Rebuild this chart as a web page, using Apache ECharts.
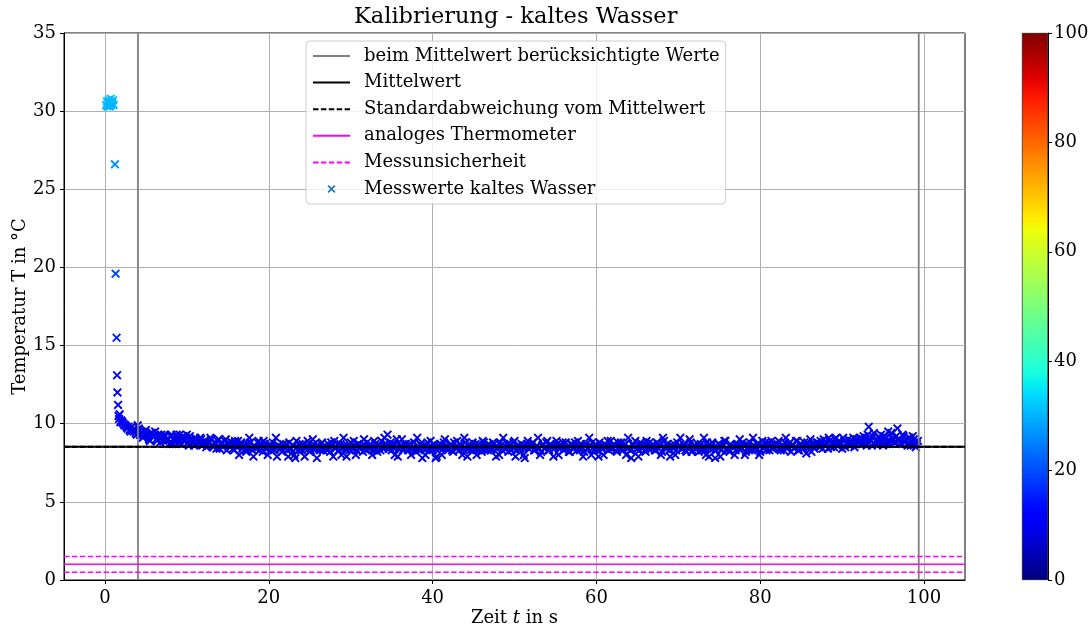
<!DOCTYPE html>
<html>
<head>
<meta charset="utf-8">
<title>Kalibrierung - kaltes Wasser</title>
<script src="https://cdn.jsdelivr.net/npm/echarts@6/dist/echarts.min.js"></script>
<style>
  html, body { margin: 0; padding: 0; background: #fff; }
  #chart { width: 1092px; height: 628px; }
</style>
</head>
<body>
<div id="chart"></div>
<script>
// Anfangsphase: Sensor kommt aus warmer Umgebung ins kalte Wasser
const zeitAnfang = [0.15,0.25,0.3,0.4,0.45,0.5,0.55,0.6,0.65,0.7,0.75,0.8,0.9,1.0,1.05,
  1.22,1.3,1.42,1.48,1.52,1.6,1.66,1.72,1.8,1.88];
const tempAnfang = [30.4,30.6,30.3,30.5,30.7,30.4,30.6,30.3,30.5,30.8,30.4,30.6,30.5,30.7,30.4,
  26.6,19.6,15.5,13.1,12.0,11.2,10.5,10.3,10.6,10.1];

// Messwerte ab t = 2 s (volle Viertelsekunden)
const zeit = [
  2,2.25,2.5,2.75,3,3.25,3.5,3.75,4,4.25,4.5,4.75,5,5.25,5.5,5.75,6,6.25,6.5,6.75,
  7,7.25,7.5,7.75,8,8.25,8.5,8.75,9,9.25,9.5,9.75,10,10.25,10.5,10.75,11,11.25,11.5,11.75,
  12,12.25,12.5,12.75,13,13.25,13.5,13.75,14,14.25,14.5,14.75,15,15.25,15.5,15.75,16,16.25,16.5,16.75,
  17,17.25,17.5,17.75,18,18.25,18.5,18.75,19,19.25,19.5,19.75,20,20.25,20.5,20.75,21,21.25,21.5,21.75,
  22,22.25,22.5,22.75,23,23.25,23.5,23.75,24,24.25,24.5,24.75,25,25.25,25.5,25.75,26,26.25,26.5,26.75,
  27,27.25,27.5,27.75,28,28.25,28.5,28.75,29,29.25,29.5,29.75,30,30.25,30.5,30.75,31,31.25,31.5,31.75,
  32,32.25,32.5,32.75,33,33.25,33.5,33.75,34,34.25,34.5,34.75,35,35.25,35.5,35.75,36,36.25,36.5,36.75,
  37,37.25,37.5,37.75,38,38.25,38.5,38.75,39,39.25,39.5,39.75,40,40.25,40.5,40.75,41,41.25,41.5,41.75,
  42,42.25,42.5,42.75,43,43.25,43.5,43.75,44,44.25,44.5,44.75,45,45.25,45.5,45.75,46,46.25,46.5,46.75,
  47,47.25,47.5,47.75,48,48.25,48.5,48.75,49,49.25,49.5,49.75,50,50.25,50.5,50.75,51,51.25,51.5,51.75,
  52,52.25,52.5,52.75,53,53.25,53.5,53.75,54,54.25,54.5,54.75,55,55.25,55.5,55.75,56,56.25,56.5,56.75,
  57,57.25,57.5,57.75,58,58.25,58.5,58.75,59,59.25,59.5,59.75,60,60.25,60.5,60.75,61,61.25,61.5,61.75,
  62,62.25,62.5,62.75,63,63.25,63.5,63.75,64,64.25,64.5,64.75,65,65.25,65.5,65.75,66,66.25,66.5,66.75,
  67,67.25,67.5,67.75,68,68.25,68.5,68.75,69,69.25,69.5,69.75,70,70.25,70.5,70.75,71,71.25,71.5,71.75,
  72,72.25,72.5,72.75,73,73.25,73.5,73.75,74,74.25,74.5,74.75,75,75.25,75.5,75.75,76,76.25,76.5,76.75,
  77,77.25,77.5,77.75,78,78.25,78.5,78.75,79,79.25,79.5,79.75,80,80.25,80.5,80.75,81,81.25,81.5,81.75,
  82,82.25,82.5,82.75,83,83.25,83.5,83.75,84,84.25,84.5,84.75,85,85.25,85.5,85.75,86,86.25,86.5,86.75,
  87,87.25,87.5,87.75,88,88.25,88.5,88.75,89,89.25,89.5,89.75,90,90.25,90.5,90.75,91,91.25,91.5,91.75,
  92,92.25,92.5,92.75,93,93.25,93.5,93.75,94,94.25,94.5,94.75,95,95.25,95.5,95.75,96,96.25,96.5,96.75,
  97,97.25,97.5,97.75,98,98.25,98.5,98.75,99,99.25
];
const temperatur = [
  10.2,10.0,9.9,9.7,9.6,9.8,9.5,9.4,9.9,9.3,9.5,9.2,9.6,9.3,8.9,9.4,9.2,9.0,9.3,8.8,
  9.1,9.3,8.9,9.0,9.2,8.7,9.1,9.3,8.8,9.0,9.2,8.9,9.3,8.6,9.0,8.8,9.1,8.7,8.9,9.0,
  8.7,8.9,8.6,8.8,9.0,8.5,8.7,8.9,8.4,8.8,8.6,9.0,8.7,8.5,8.8,8.3,8.7,8.9,8.6,8.4,
  8.6,8.2,8.5,8.8,8.3,8.6,8.4,8.9,8.5,8.2,8.7,8.4,8.6,8.3,8.8,8.5,7.9,8.6,8.4,8.7,
  8.5,8.3,8.8,8.4,8.6,7.8,8.5,8.7,8.3,8.6,8.4,8.9,8.2,8.5,8.7,8.4,8.6,8.3,8.8,8.5,
  8.4,8.7,8.2,8.6,8.9,8.5,8.3,8.7,8.4,8.6,7.9,8.5,8.8,8.4,8.6,8.3,8.7,8.5,8.2,8.6,
  8.8,8.4,8.5,8.3,8.7,8.2,8.6,8.9,8.4,8.5,9.3,8.6,8.3,8.7,8.5,7.9,8.6,9.0,8.4,8.7,
  8.3,8.6,8.4,8.8,8.2,8.5,8.7,7.8,8.6,8.4,8.5,8.9,8.3,8.6,7.9,8.5,8.7,8.4,9.0,8.5,
  8.4,8.7,8.2,8.5,8.9,8.3,8.6,8.4,8.8,7.9,8.5,8.6,8.3,8.7,8.4,8.5,8.2,8.8,8.5,8.3,
  8.6,8.4,8.7,7.9,8.5,8.8,8.3,8.6,8.4,8.2,8.7,8.5,8.9,8.3,8.6,8.4,8.5,7.8,8.7,8.4,
  8.5,8.8,8.3,8.6,8.4,8.2,8.7,8.5,8.9,8.3,8.6,7.9,8.5,8.7,8.4,8.6,8.3,8.8,8.5,8.2,
  8.7,8.4,8.6,8.9,8.3,8.5,8.2,8.7,8.4,8.6,8.8,8.3,8.5,7.9,8.6,8.4,8.7,8.5,8.3,8.9,
  8.4,8.6,8.2,8.5,8.8,8.3,8.7,8.4,8.5,7.8,8.6,8.9,8.4,8.3,8.7,8.5,8.2,8.6,8.8,8.4,
  8.5,8.3,8.7,8.6,8.2,8.9,8.4,8.5,7.9,8.6,8.7,8.3,8.5,9.1,8.4,8.6,8.2,8.5,8.8,8.3,
  8.6,8.4,8.2,8.7,8.5,8.3,8.8,7.9,8.6,8.4,7.8,8.5,8.7,8.3,8.6,8.9,8.4,8.2,8.6,8.5,
  8.3,8.7,9.0,8.4,8.6,8.2,8.5,8.8,8.3,8.6,8.4,8.7,8.2,8.9,8.5,8.3,8.8,8.6,8.4,8.7,
  8.5,8.9,8.3,8.6,8.8,8.4,8.7,8.2,8.6,8.5,8.9,8.3,8.7,8.4,8.6,8.8,8.5,8.2,8.7,8.6,
  8.8,8.5,8.7,9.0,8.6,8.4,8.9,8.7,8.5,9.1,8.6,8.8,8.4,8.9,8.7,9.0,8.6,8.8,8.5,9.0,
  8.8,9.1,8.7,9.0,8.6,9.8,8.9,9.2,8.7,9.0,8.8,9.3,8.6,9.1,8.9,8.7,9.4,9.0,8.8,9.7,
  9.0,8.7,9.2,8.9,8.6,9.1,8.8,9.0,8.5,8.9
];

// Messwerte zwischen den Viertelsekunden
const zeitZwischen = [
  2.125,2.375,2.625,2.875,3.125,3.375,3.625,3.875,4.125,4.375,4.625,4.875,5.125,5.375,5.625,5.875,6.125,6.375,6.625,6.875,
  7.125,7.375,7.625,7.875,8.125,8.375,8.625,8.875,9.125,9.375,9.625,9.875,10.125,10.375,10.625,10.875,11.125,11.375,11.625,11.875,
  12.125,12.375,12.625,12.875,13.125,13.375,13.625,13.875,14.125,14.375,14.625,14.875,15.125,15.375,15.625,15.875,16.125,16.375,16.625,16.875,
  17.125,17.375,17.625,17.875,18.125,18.375,18.625,18.875,19.125,19.375,19.625,19.875,20.125,20.375,20.625,20.875,21.125,21.375,21.625,21.875,
  22.125,22.375,22.625,22.875,23.125,23.375,23.625,23.875,24.125,24.375,24.625,24.875,25.125,25.375,25.625,25.875,26.125,26.375,26.625,26.875,
  27.125,27.375,27.625,27.875,28.125,28.375,28.625,28.875,29.125,29.375,29.625,29.875,30.125,30.375,30.625,30.875,31.125,31.375,31.625,31.875,
  32.125,32.375,32.625,32.875,33.125,33.375,33.625,33.875,34.125,34.375,34.625,34.875,35.125,35.375,35.625,35.875,36.125,36.375,36.625,36.875,
  37.125,37.375,37.625,37.875,38.125,38.375,38.625,38.875,39.125,39.375,39.625,39.875,40.125,40.375,40.625,40.875,41.125,41.375,41.625,41.875,
  42.125,42.375,42.625,42.875,43.125,43.375,43.625,43.875,44.125,44.375,44.625,44.875,45.125,45.375,45.625,45.875,46.125,46.375,46.625,46.875,
  47.125,47.375,47.625,47.875,48.125,48.375,48.625,48.875,49.125,49.375,49.625,49.875,50.125,50.375,50.625,50.875,51.125,51.375,51.625,51.875,
  52.125,52.375,52.625,52.875,53.125,53.375,53.625,53.875,54.125,54.375,54.625,54.875,55.125,55.375,55.625,55.875,56.125,56.375,56.625,56.875,
  57.125,57.375,57.625,57.875,58.125,58.375,58.625,58.875,59.125,59.375,59.625,59.875,60.125,60.375,60.625,60.875,61.125,61.375,61.625,61.875,
  62.125,62.375,62.625,62.875,63.125,63.375,63.625,63.875,64.125,64.375,64.625,64.875,65.125,65.375,65.625,65.875,66.125,66.375,66.625,66.875,
  67.125,67.375,67.625,67.875,68.125,68.375,68.625,68.875,69.125,69.375,69.625,69.875,70.125,70.375,70.625,70.875,71.125,71.375,71.625,71.875,
  72.125,72.375,72.625,72.875,73.125,73.375,73.625,73.875,74.125,74.375,74.625,74.875,75.125,75.375,75.625,75.875,76.125,76.375,76.625,76.875,
  77.125,77.375,77.625,77.875,78.125,78.375,78.625,78.875,79.125,79.375,79.625,79.875,80.125,80.375,80.625,80.875,81.125,81.375,81.625,81.875,
  82.125,82.375,82.625,82.875,83.125,83.375,83.625,83.875,84.125,84.375,84.625,84.875,85.125,85.375,85.625,85.875,86.125,86.375,86.625,86.875,
  87.125,87.375,87.625,87.875,88.125,88.375,88.625,88.875,89.125,89.375,89.625,89.875,90.125,90.375,90.625,90.875,91.125,91.375,91.625,91.875,
  92.125,92.375,92.625,92.875,93.125,93.375,93.625,93.875,94.125,94.375,94.625,94.875,95.125,95.375,95.625,95.875,96.125,96.375,96.625,96.875,
  97.125,97.375,97.625,97.875,98.125,98.375,98.625,98.875,99.125
];
const tempZwischen = [
  10.1,9.9,9.8,9.8,9.5,9.6,9.6,9.3,9.7,9.4,9.1,9.5,9.3,9.0,9.4,9.2,9.5,8.9,9.2,9.3,
  8.9,9.2,9.0,8.7,9.3,9.0,8.8,9.1,9.3,8.7,8.9,9.1,8.8,9.2,8.9,8.6,9.0,8.8,9.1,8.6,
  8.9,8.5,8.8,9.1,8.6,8.8,8.4,9.0,8.7,8.5,8.9,8.3,8.8,8.6,8.4,8.9,8.5,8.0,8.8,8.6,
  8.3,8.7,9.1,8.4,7.9,8.5,8.8,8.3,8.6,8.9,8.4,8.0,8.7,8.5,8.3,9.1,8.6,8.4,8.2,8.5,
  8.7,7.9,8.4,8.6,8.0,8.9,8.3,8.5,8.7,7.9,8.6,8.4,8.3,9.0,8.5,7.8,8.4,8.7,8.3,8.6,
  8.3,8.5,8.8,7.9,8.4,8.7,8.6,8.0,9.1,8.4,8.6,8.3,8.5,8.9,8.0,8.7,8.4,8.6,9.0,8.3,
  8.5,8.7,8.0,8.9,8.4,8.6,8.3,8.5,9.1,8.7,8.4,8.8,8.5,8.0,9.0,8.4,8.6,8.3,8.7,8.5,
  8.7,8.0,8.5,8.4,9.1,8.3,8.6,8.4,8.0,8.8,8.3,8.5,8.7,7.8,8.6,8.4,8.0,8.8,8.5,8.3,
  8.6,8.3,8.8,8.4,8.5,8.7,8.0,9.1,8.4,8.6,8.3,8.8,8.5,8.0,8.7,8.4,8.9,8.3,8.6,8.7,
  8.3,8.8,8.5,8.4,8.0,8.6,9.1,8.4,8.7,8.5,8.3,8.8,7.9,8.6,8.4,8.7,8.0,8.5,8.9,8.6,
  8.7,8.3,8.5,9.1,8.0,8.6,8.4,8.8,8.3,8.7,8.5,8.4,8.9,8.0,8.6,8.8,8.4,8.5,8.2,8.7,
  8.4,8.8,8.3,8.5,8.7,7.9,8.6,8.4,9.1,8.0,8.5,8.7,8.3,8.8,8.4,8.0,8.6,8.9,8.5,8.4,
  8.7,8.3,8.8,8.5,8.4,8.6,8.0,9.1,8.3,8.7,8.5,8.4,7.9,8.8,8.6,8.3,8.9,8.4,8.5,8.7,
  8.3,8.8,8.4,8.0,9.1,8.5,8.7,8.3,8.6,8.4,8.0,8.8,8.6,8.4,8.7,8.3,8.5,9.0,8.2,8.6,
  8.4,8.7,8.5,8.3,9.1,8.0,8.6,8.4,8.8,8.5,8.3,8.7,7.9,8.6,8.9,8.4,8.3,8.7,8.5,8.0,
  8.6,8.4,8.5,8.8,8.0,8.7,8.3,8.5,9.1,8.4,8.7,8.0,8.6,8.5,8.8,8.4,8.3,8.9,8.5,8.6,
  8.7,8.4,8.6,8.3,9.1,8.5,8.8,8.6,8.4,8.9,8.3,8.7,8.5,8.8,8.1,8.6,9.0,8.7,8.4,8.8,
  8.6,8.9,8.4,8.7,8.8,9.1,8.5,8.7,9.0,8.6,8.9,8.7,9.1,8.5,8.8,8.6,8.9,9.1,8.7,8.8,
  9.0,8.7,9.2,8.8,9.3,9.0,8.6,9.4,8.9,8.7,9.1,8.8,9.2,8.7,9.5,8.9,9.1,8.8,9.2,8.9,
  8.8,9.3,8.9,8.7,9.1,8.6,9.2,8.8,8.7
];

// Auswertungsbereich, Mittelwert und Thermometer
const bereichGrenzen = [4.03, 99.35];
const mittelwert = 8.52;
const standardabweichung = 0.02;
const thermometer = 1.0;
const messunsicherheit = 0.5;

// Achsen
const zeitMin = -5, zeitMax = 105;
const zeitTicks = [0, 20, 40, 60, 80, 100];
const tempMin = 0, tempMax = 35, tempSchritt = 5;
const farbMin = 0, farbMax = 100, farbSchritt = 20;

const FONT = 'DejaVu Serif';

// matplotlib "jet" Farbskala
function jet(v) {
  v = Math.max(0, Math.min(1, v));
  const seg = pts => {
    for (let i = 1; i < pts.length; i++) {
      if (v <= pts[i][0]) {
        const [x0, y0] = pts[i - 1], [x1, y1] = pts[i];
        return y0 + (y1 - y0) * (v - x0) / (x1 - x0);
      }
    }
    return pts[pts.length - 1][1];
  };
  const r = seg([[0,0],[0.35,0],[0.66,1],[0.89,1],[1,0.5]]);
  const g = seg([[0,0],[0.125,0],[0.375,1],[0.64,1],[0.91,0],[1,0]]);
  const b = seg([[0,0.5],[0.11,1],[0.34,1],[0.65,0],[1,0]]);
  const h = x => Math.round(x * 255);
  return 'rgb(' + h(r) + ',' + h(g) + ',' + h(b) + ')';
}

const alleZeiten = zeitAnfang.concat(zeit, zeitZwischen);
const alleTemps = tempAnfang.concat(temperatur, tempZwischen);
const messpunkte = alleZeiten.map((t, i) => [t, alleTemps[i]]);

const kreuz = 'path://M0,1.5L1.5,0L5,3.5L8.5,0L10,1.5L6.5,5L10,8.5L8.5,10L5,6.5L1.5,10L0,8.5L3.5,5Z';

function hLinie(name, y, color, dashed, width) {
  return {
    name, type: 'line', xAxisIndex: 0, yAxisIndex: 0,
    data: [[zeitMin, y], [zeitMax, y]],
    symbol: 'none', silent: true, z: 4,
    itemStyle: { color },
    lineStyle: { color, width: width || 1.5, type: dashed ? [5.5, 2.4] : 'solid' }
  };
}
function vLinie(name, x) {
  return {
    name, type: 'line', xAxisIndex: 0, yAxisIndex: 0,
    data: [[x, tempMin], [x, tempMax]],
    symbol: 'none', silent: true, z: 4,
    itemStyle: { color: '#808080' },
    lineStyle: { color: '#808080', width: 1.8 }
  };
}

const farbStops = [];
for (let i = 0; i <= 50; i++) farbStops.push({ offset: i / 50, color: jet(i / 50) });

const NAME_GRENZEN = 'beim Mittelwert berücksichtigte Werte';
const NAME_MITTEL = 'Mittelwert';
const NAME_STD = 'Standardabweichung vom Mittelwert';
const NAME_THERMO = 'analoges Thermometer';
const NAME_UNSICHER = 'Messunsicherheit';
const NAME_MESS = 'Messwerte kaltes Wasser';

const labelStyle = { fontFamily: FONT, fontSize: 18, color: '#000' };

const option = {
  animation: false,
  backgroundColor: '#fff',
  title: {
    text: 'Kalibrierung - kaltes Wasser',
    left: 354, top: 6, padding: 0,
    textStyle: { fontFamily: FONT, fontSize: 22.5, fontWeight: 'normal', color: '#000' }
  },
  legend: {
    orient: 'vertical', left: 306, top: 41,
    padding: [5, 6, 5, 6],
    itemWidth: 37, itemHeight: 8, itemGap: 6.6,
    backgroundColor: 'rgba(255,255,255,0.8)',
    borderColor: '#cccccc', borderWidth: 1, borderRadius: 4,
    itemStyle: { opacity: 0 },
    textStyle: { fontFamily: FONT, fontSize: 18, color: '#000', lineHeight: 20, padding: [0, 0, 0, 9] },
    selectedMode: false,
    data: [
      { name: NAME_GRENZEN },
      { name: NAME_MITTEL },
      { name: NAME_STD },
      { name: NAME_THERMO },
      { name: NAME_UNSICHER },
      { name: NAME_MESS, icon: kreuz, itemStyle: { color: '#1f77b4', opacity: 1 } }
    ]
  },
  grid: [
    { left: 64, top: 33, width: 901, height: 547, show: true, borderColor: '#000', borderWidth: 1,
      backgroundColor: 'transparent', outerBoundsMode: 'none' },
    { left: 1022, top: 33, width: 26, height: 547, outerBoundsMode: 'none' }
  ],
  xAxis: [
    {
      type: 'value', gridIndex: 0, min: zeitMin, max: zeitMax, splitNumber: 5,
      axisLine: { show: true, onZero: false, lineStyle: { color: '#000', width: 1 } },
      axisTick: { show: true, inside: false, length: 4, lineStyle: { color: '#000' }, customValues: zeitTicks },
      axisLabel: Object.assign({ margin: 9, customValues: zeitTicks }, labelStyle),
      splitLine: { show: true, lineStyle: { color: '#b0b0b0', width: 1 } },
      name: 'Zeit {i|t} in s', nameLocation: 'middle', nameGap: 29, nameMoveOverlap: false,
      nameTextStyle: Object.assign({ rich: { i: { fontFamily: FONT, fontSize: 18, fontStyle: 'italic', color: '#000' } } }, labelStyle)
    },
    { type: 'category', gridIndex: 1, data: [''], show: false }
  ],
  yAxis: [
    {
      type: 'value', gridIndex: 0, min: tempMin, max: tempMax, interval: tempSchritt,
      axisLine: { show: true, onZero: false, lineStyle: { color: '#000', width: 1 } },
      axisTick: { show: true, inside: false, length: 4, lineStyle: { color: '#000' } },
      axisLabel: Object.assign({ margin: 8 }, labelStyle),
      splitLine: { show: true, lineStyle: { color: '#b0b0b0', width: 1 } },
      name: 'Temperatur T in °C', nameLocation: 'middle', nameGap: 35, nameRotate: 90, nameMoveOverlap: false,
      nameTextStyle: labelStyle
    },
    {
      type: 'value', gridIndex: 1, min: farbMin, max: farbMax, interval: farbSchritt, position: 'right',
      axisLine: { show: true, lineStyle: { color: '#000', width: 1 } },
      axisTick: { show: true, inside: false, length: 4, lineStyle: { color: '#000' } },
      axisLabel: Object.assign({ margin: 6 }, labelStyle),
      splitLine: { show: false }
    }
  ],
  series: [
    {
      name: NAME_MESS, type: 'scatter', xAxisIndex: 0, yAxisIndex: 0,
      data: messpunkte, symbol: kreuz, symbolSize: 9, z: 2, silent: true,
      itemStyle: { color: p => jet(p.value[1] / farbMax), opacity: 1 }
    },
    vLinie(NAME_GRENZEN, bereichGrenzen[0]),
    vLinie(NAME_GRENZEN, bereichGrenzen[1]),
    hLinie(NAME_MITTEL, mittelwert, '#000', false, 2),
    hLinie(NAME_STD, mittelwert + standardabweichung, '#000', true),
    hLinie(NAME_STD, mittelwert - standardabweichung, '#000', true),
    hLinie(NAME_THERMO, thermometer, '#ff00ff', false),
    hLinie(NAME_UNSICHER, thermometer + messunsicherheit, '#ff00ff', true),
    hLinie(NAME_UNSICHER, thermometer - messunsicherheit, '#ff00ff', true),
    {
      name: 'Farbskala', type: 'bar', xAxisIndex: 1, yAxisIndex: 1,
      data: [farbMax], barWidth: '100%', silent: true,
      itemStyle: {
        color: new echarts.graphic.LinearGradient(0, 1, 0, 0, farbStops),
        borderColor: '#000', borderWidth: 0.6
      }
    }
  ]
};

const chart = echarts.init(document.getElementById('chart'), null, { renderer: 'canvas' });
chart.setOption(option);
</script>
</body>
</html>
